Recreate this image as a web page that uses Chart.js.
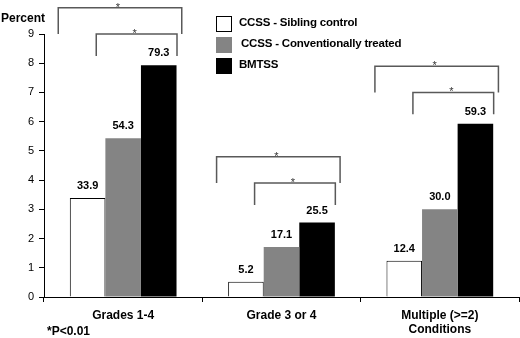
<!DOCTYPE html>
<html>
<head>
<meta charset="utf-8">
<script src="https://cdn.jsdelivr.net/npm/chart.js@4"></script>
<style>
  body { margin: 0; background: #fff; }
  #wrap { position: relative; width: 520px; height: 338px; }
  #legend { position: absolute; left: 216px; top: 15px; font: bold 11.5px "Liberation Sans", Arial, sans-serif; color: #000; }
  .row { position: relative; height: 21px; }
  .box { position: absolute; left: 0; top: 1px; width: 16px; height: 16px; box-sizing: border-box; }
  .txt { position: absolute; left: 23px; top: 0px; line-height: 14px; white-space: nowrap; letter-spacing: -0.2px; }
</style>
</head>
<body>
<div id="wrap">
  <canvas id="chart" width="520" height="338"></canvas>
  <div id="legend"></div>
</div>
<script>
const categories = [['Grades 1-4'], ['Grade 3 or 4'], ['Multiple (>=2)', 'Conditions']];
const seriesNames = ['CCSS - Sibling control', 'CCSS - Conventionally treated', 'BMTSS'];
const siblingControl = [33.9, 5.2, 12.4];
const conventional = [54.3, 17.1, 30.0];
const bmtss = [79.3, 25.5, 59.3];
const yTickLabels = ['0', '1', '2', '3', '4', '5', '6', '7', '8', '9'];

// significance brackets per category (in the same units as the bars)
const outerTop = [99, 48, 79];
const innerTop = [90, 39, 70];
const innerBottom = [82.5, 31.5, 62.5];

const colors = ['#ffffff', '#848484', '#000000'];
const FONT = '"Liberation Sans", Arial, sans-serif';

// html legend
const legend = document.getElementById('legend');
seriesNames.forEach((name, i) => {
  const row = document.createElement('div');
  row.className = 'row';
  const box = document.createElement('div');
  box.className = 'box';
  box.style.background = colors[i];
  if (i === 0) box.style.border = '1px solid #000';
  const txt = document.createElement('div');
  txt.className = 'txt';
  txt.textContent = name;
  if (i === 1) txt.style.left = '25px';
  row.appendChild(box);
  row.appendChild(txt);
  legend.appendChild(row);
});

const extras = {
  id: 'extras',
  afterDatasetsDraw(chart) {
    const ctx = chart.ctx;
    ctx.save();
    ctx.fillStyle = '#000';
    ctx.font = 'bold 11px ' + FONT;
    ctx.textAlign = 'center';
    ctx.textBaseline = 'middle';
    chart.data.datasets.forEach((ds, di) => {
      chart.getDatasetMeta(di).data.forEach((bar, i) => {
        ctx.fillText(ds.data[i].toFixed(1), bar.x, bar.y - 12);
      });
    });
    ctx.restore();
  },
  afterDraw(chart) {
    const ctx = chart.ctx;
    const x = chart.scales.x, y = chart.scales.y;
    ctx.save();
    ctx.strokeStyle = '#595959';
    ctx.lineWidth = 1.5;
    ctx.fillStyle = '#333';
    ctx.font = '11px ' + FONT;
    ctx.textAlign = 'center';
    ctx.textBaseline = 'alphabetic';
    const bracket = (x1, x2, top, bottom) => {
      const px1 = x.getPixelForValue(x1), px2 = x.getPixelForValue(x2);
      const pt = y.getPixelForValue(top), pb = y.getPixelForValue(bottom);
      ctx.beginPath();
      ctx.moveTo(px1, pb);
      ctx.lineTo(px1, pt);
      ctx.lineTo(px2, pt);
      ctx.lineTo(px2, pb);
      ctx.stroke();
      ctx.fillText('*', (px1 + px2) / 2 - 2, pt + 3);
    };
    categories.forEach((c, i) => {
      bracket(i - 0.41, i + 0.37, outerTop[i], innerTop[i]);
      bracket(i - 0.17, i + 0.34, innerTop[i], innerBottom[i]);
    });
    // axis title and footnote
    ctx.fillStyle = '#000';
    ctx.font = 'bold 12px ' + FONT;
    ctx.textAlign = 'right';
    ctx.textBaseline = 'middle';
    ctx.fillText('Percent', 45, 19);
    ctx.textAlign = 'left';
    ctx.fillText('*P<0.01', 47, 332);
    ctx.restore();
  }
};

new Chart(document.getElementById('chart'), {
  type: 'bar',
  data: {
    labels: categories,
    datasets: [
      { label: seriesNames[0], data: siblingControl, backgroundColor: colors[0], borderColor: '#000', borderWidth: 1 },
      { label: seriesNames[1], data: conventional, backgroundColor: colors[1], borderWidth: 0 },
      { label: seriesNames[2], data: bmtss, backgroundColor: colors[2], borderWidth: 0 }
    ]
  },
  options: {
    responsive: false,
    animation: false,
    layout: { padding: { top: 34, right: 1, left: 0, bottom: 0 } },
    datasets: { bar: { categoryPercentage: 0.674, barPercentage: 1 } },
    plugins: {
      legend: { display: false },
      tooltip: { enabled: false }
    },
    scales: {
      x: {
        afterFit: s => { s.height = 41; },
        grid: { display: true, drawOnChartArea: false, color: '#000', tickLength: 5 },
        border: { display: true, color: '#000', width: 1 },
        ticks: { color: '#000', padding: 6, maxRotation: 0, autoSkip: false, font: { family: FONT, size: 12, weight: 'bold' } }
      },
      y: {
        min: 0,
        max: 90,
        afterFit: s => { s.width = 44; },
        grid: { display: true, drawOnChartArea: false, color: '#000', tickLength: 5 },
        border: { display: true, color: '#000', width: 1 },
        ticks: {
          stepSize: 10,
          color: '#000',
          padding: 5,
          font: { family: FONT, size: 11 },
          callback: (v, i) => yTickLabels[i]
        }
      }
    }
  },
  plugins: [extras]
});
</script>
</body>
</html>
